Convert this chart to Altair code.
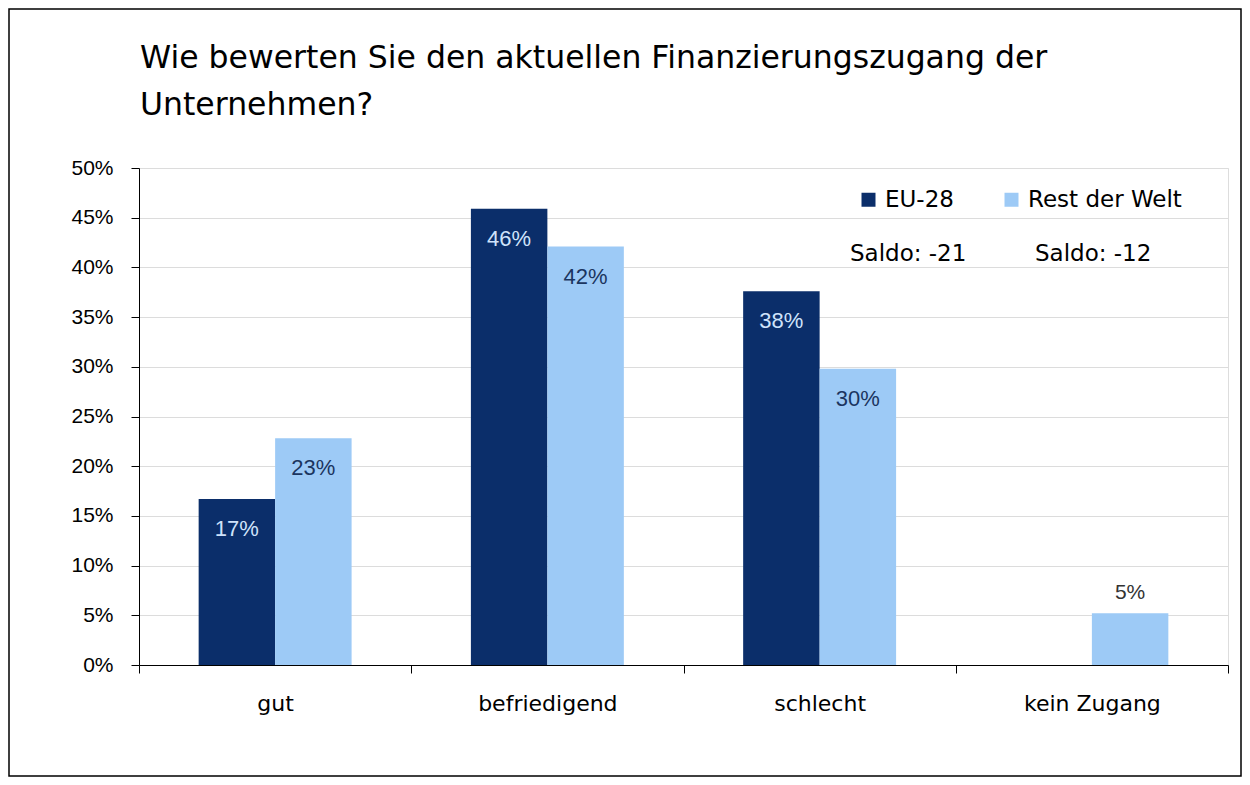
import altair as alt
import pandas as pd

categories = ["gut", "befriedigend", "schlecht", "kein Zugang"]
series_names = ["EU-28", "Rest der Welt"]
eu_values = [16.7, 45.9, 37.6, 0.0]
rdw_values = [22.8, 42.1, 29.8, 5.2]
saldo_labels = ["Saldo: -21", "Saldo: -12"]
y_ticks = [0, 5, 10, 15, 20, 25, 30, 35, 40, 45, 50]
title_lines = ["Wie bewerten Sie den aktuellen Finanzierungszugang der", "Unternehmen?"]

rows = []
for c, v in zip(categories, eu_values):
    rows.append({"cat": c, "series": series_names[0], "value": v})
for c, v in zip(categories, rdw_values):
    rows.append({"cat": c, "series": series_names[1], "value": v})
df = pd.DataFrame(rows)
df["label"] = df["value"].round(0).astype(int).astype(str) + "%"

W, H = 1089, 497
TITLE_FONT = "DejaVu Sans"
LAB_FONT = "DejaVu Sans"
AX_FONT = "Liberation Sans"
DARK = "#0b2e6a"
LIGHT = "#9dcaf6"

x_enc = alt.X("cat:N", sort=categories, title=None,
              scale=alt.Scale(paddingInner=0, paddingOuter=0),
              axis=alt.Axis(labelAngle=0, labelFont=LAB_FONT, labelFontSize=22,
                            labelColor="#000", tickBand="extent", ticks=True,
                            tickSize=8, tickColor="#000", domainColor="#000",
                            labelPadding=20, grid=False))
xoff = alt.XOffset("series:N", sort=series_names,
                   scale=alt.Scale(paddingInner=0, paddingOuter=0.78))
y_enc = alt.Y("value:Q", title=None,
              scale=alt.Scale(domain=[0, 50], nice=False),
              axis=alt.Axis(values=y_ticks, labelExpr="datum.value + '%'",
                            labelFont=AX_FONT, labelFontSize=21, labelColor="#000",
                            tickSize=8, tickColor="#000", domainColor="#000",
                            labelPadding=18, grid=True, gridColor="#dcdcdc",
                            gridWidth=1))

base = alt.Chart(df)

bars = base.mark_bar().encode(
    x=x_enc, xOffset=xoff, y=y_enc,
    color=alt.Color("series:N", sort=series_names,
                    scale=alt.Scale(domain=series_names, range=[DARK, LIGHT]),
                    legend=alt.Legend(title=None, orient="none", legendX=718, legendY=20,
                                      direction="horizontal", symbolType="square",
                                      symbolSize=196, symbolStrokeWidth=0,
                                      labelFont=LAB_FONT, labelFontSize=23,
                                      labelColor="#000", columnPadding=46,
                                      symbolOffset=0, labelOffset=5)),
)

inside = base.transform_filter("datum.value >= 10").mark_text(
    baseline="middle", dy=30, font=AX_FONT, fontSize=22
).encode(
    x=alt.X("cat:N", sort=categories), xOffset=alt.XOffset("series:N", sort=series_names),
    y="value:Q", text="label:N",
    color=alt.Color("series:N", sort=series_names,
                    scale=alt.Scale(domain=series_names, range=["#cfe3fb", "#1b355f"]),
                    legend=None),
)

outside = base.transform_filter("datum.value > 0 && datum.value < 10").mark_text(
    baseline="middle", dy=-20, font=AX_FONT, fontSize=21, color="#333333"
).encode(
    x=alt.X("cat:N", sort=categories), xOffset=alt.XOffset("series:N", sort=series_names),
    y="value:Q", text="label:N",
)

def note(text, x, y, font, size):
    return alt.Chart(pd.DataFrame({"t": [text]})).mark_text(
        align="left", baseline="alphabetic", font=font, fontSize=size, color="#000"
    ).encode(x=alt.value(x), y=alt.value(y), text="t:N")

saldo1 = note(saldo_labels[0], 711, 93, LAB_FONT, 23)
saldo2 = note(saldo_labels[1], 896, 93, LAB_FONT, 23)
title1 = note(title_lines[0], 1, -100, TITLE_FONT, 31.5)
title2 = note(title_lines[1], 1, -53, TITLE_FONT, 31.5)

frame = alt.Chart(pd.DataFrame({"a": [0]})).mark_rect(
    fill=None, stroke="#000", strokeWidth=1.5
).encode(x=alt.value(-130), x2=alt.value(1102), y=alt.value(-159), y2=alt.value(608))

chart = alt.layer(bars, inside, outside, saldo1, saldo2, title1, title2, frame).resolve_scale(
    color="independent"
).properties(
    width=W, height=H,
    autosize=alt.AutoSizeParams(type="none"),
    padding={"left": 131, "top": 160, "right": 14, "bottom": 112},
).configure_view(stroke=None).configure(background="white")

chart.save("out.html", embed_options={"renderer": "svg", "actions": False})
